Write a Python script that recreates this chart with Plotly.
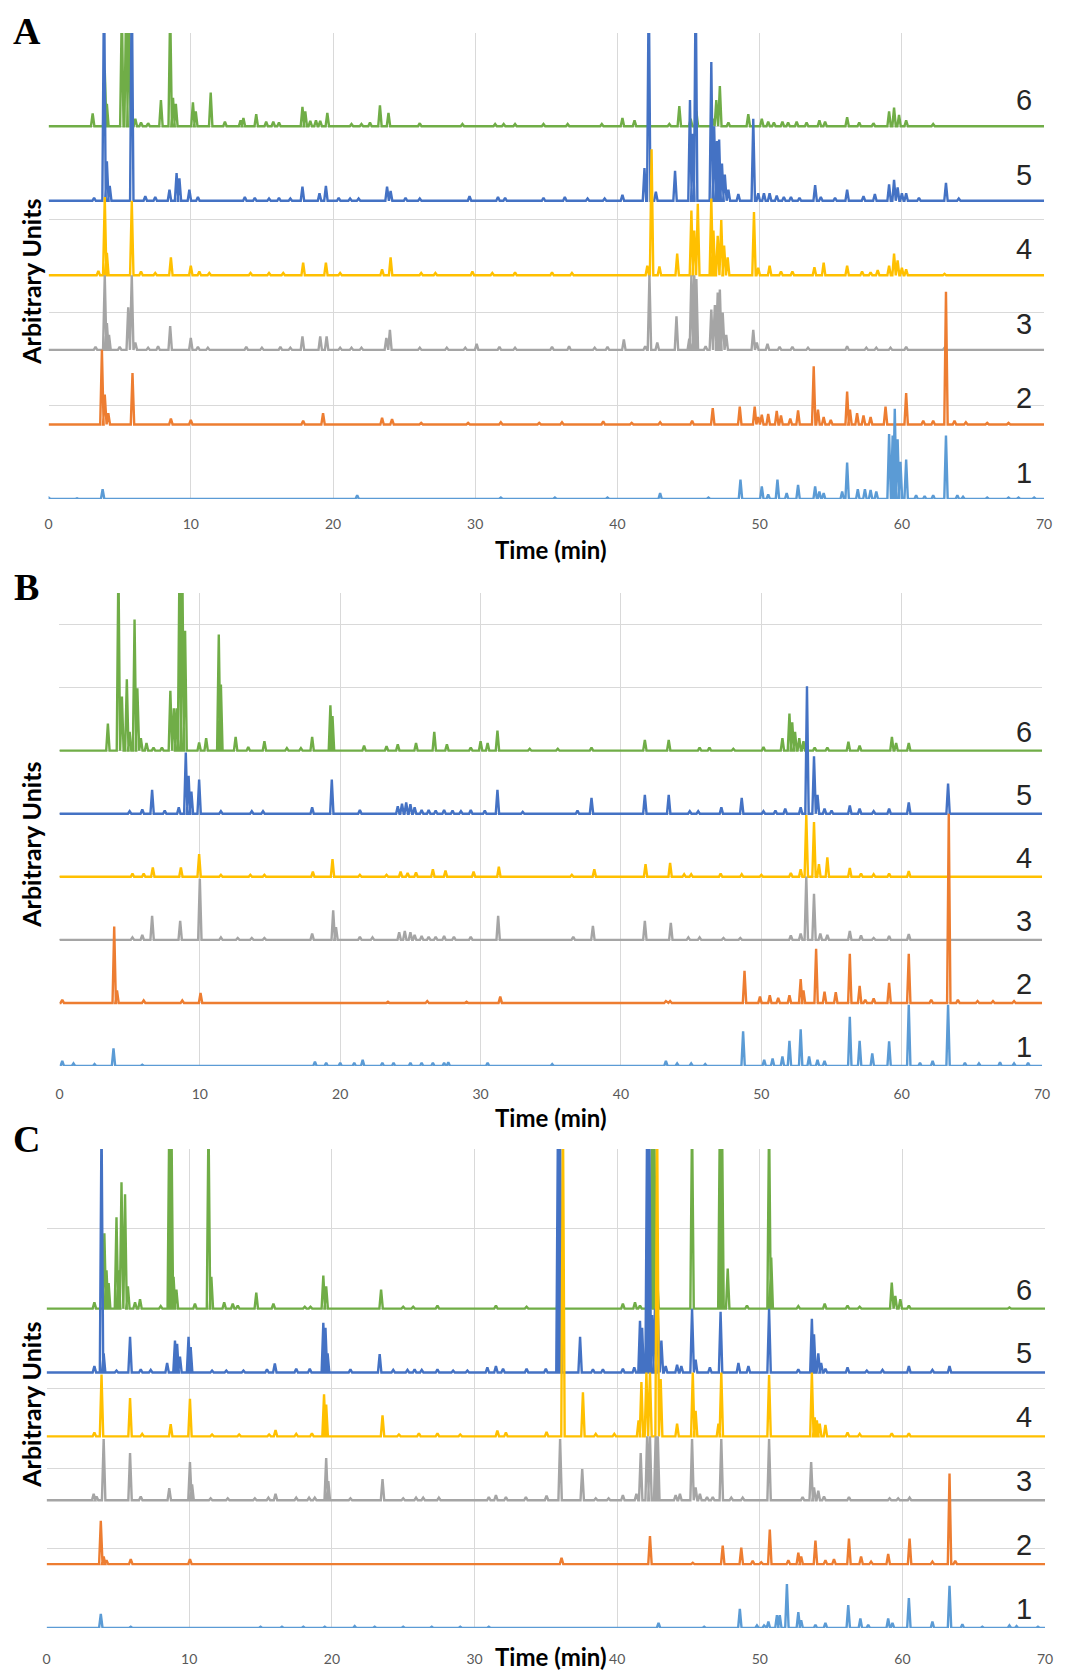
import plotly.graph_objects as go

# browser window in px; the page body keeps its default 8 px margin
W, H = 1069, 1679
BODY_MARGIN = 8
FIG_W, FIG_H = W - 2 * BODY_MARGIN, H - 2 * BODY_MARGIN
TIME_MAX = 70
PEAK_HALF_WIDTH = 0.12  # min

COLORS = ["#5B9BD5", "#ED7D31", "#A5A5A5", "#FFC000", "#4472C4", "#70AD47"]
SAMPLE_LABELS = ["1", "2", "3", "4", "5", "6"]
TIME_TICKS = [0, 10, 20, 30, 40, 50, 60, 70]

# peaks as (time in min, height in units of the trace spacing)
# --- panel A ---
A1 = [(0.0, 0.02), (2.0, 0.01), (3.8, 0.13), (21.7, 0.05), (31.8, 0.02), (35.6, 0.02), (39.3, 0.02),
      (43.0, 0.08), (46.4, 0.02), (48.65, 0.26), (50.15, 0.17), (50.6, 0.06), (51.25, 0.26), (51.9, 0.08),
      (52.7, 0.19), (53.9, 0.17), (54.2, 0.1), (54.5, 0.08), (55.8, 0.1), (56.15, 0.49), (56.9, 0.13),
      (57.4, 0.13), (57.8, 0.12), (58.2, 0.1), (59.1, 0.87), (59.35, 0.85), (59.5, 1.21), (59.7, 0.8),
      (59.9, 0.5), (60.3, 0.53), (61.0, 0.05), (61.6, 0.04), (62.2, 0.05), (63.1, 0.85), (63.9, 0.05),
      (64.3, 0.03), (66.0, 0.02), (67.5, 0.02), (68.2, 0.02), (69.3, 0.02)]
A2 = [(3.75, 1.0), (3.95, 0.4), (4.2, 0.15), (5.9, 0.69), (8.6, 0.08), (10.0, 0.06), (17.9, 0.05),
      (19.3, 0.15), (23.45, 0.09), (24.15, 0.07), (26.2, 0.02), (29.5, 0.02), (31.8, 0.03), (34.5, 0.02),
      (36.1, 0.03), (39.0, 0.04), (41.0, 0.02), (43.0, 0.03), (45.25, 0.05), (46.7, 0.22), (48.6, 0.24),
      (49.65, 0.24), (49.9, 0.1), (50.15, 0.13), (50.6, 0.14), (51.2, 0.18), (51.5, 0.12), (52.15, 0.08),
      (52.7, 0.19), (53.8, 0.78), (54.1, 0.2), (54.5, 0.1), (55.0, 0.06), (56.15, 0.44), (56.35, 0.2),
      (56.85, 0.15), (57.3, 0.12), (57.8, 0.1), (58.85, 0.24), (60.3, 0.42), (61.5, 0.05), (62.2, 0.05),
      (63.1, 1.78), (63.7, 0.05), (64.5, 0.03), (66.0, 0.02), (67.5, 0.02)]
A3 = [(3.3, 0.04), (3.95, 1.0), (4.1, 0.36), (4.25, 0.2), (5.0, 0.04), (5.6, 0.57), (5.85, 1.0),
      (6.1, 0.1), (7.0, 0.03), (7.7, 0.05), (8.55, 0.32), (10.0, 0.16), (10.5, 0.04), (11.2, 0.03),
      (13.9, 0.04), (15.0, 0.03), (16.3, 0.04), (17.0, 0.03), (17.85, 0.18), (19.1, 0.18), (19.55, 0.18),
      (20.5, 0.03), (21.3, 0.03), (22.0, 0.03), (23.75, 0.16), (24.0, 0.27), (26.1, 0.03), (28.0, 0.03),
      (29.3, 0.03), (30.1, 0.08), (31.7, 0.04), (32.8, 0.03), (35.4, 0.04), (36.6, 0.05), (38.4, 0.03),
      (39.3, 0.04), (40.45, 0.14), (41.95, 0.05), (42.25, 1.0), (42.8, 0.1), (44.15, 0.45), (45.05, 0.15),
      (45.2, 1.0), (45.4, 1.0), (45.55, 0.95), (46.2, 0.05), (46.6, 0.54), (46.85, 0.6), (47.05, 0.77),
      (47.2, 0.81), (47.4, 0.5), (47.65, 0.2), (49.55, 0.27), (49.8, 0.1), (50.55, 0.08), (51.4, 0.04),
      (52.3, 0.04), (53.4, 0.03), (56.15, 0.05), (57.5, 0.03), (58.2, 0.03), (59.2, 0.03), (60.3, 0.04),
      (63.0, 0.03)]
A4 = [(3.5, 0.06), (3.95, 1.05), (4.1, 0.3), (5.85, 1.0), (6.5, 0.05), (7.5, 0.03), (8.6, 0.24),
      (10.0, 0.13), (10.6, 0.05), (11.3, 0.03), (14.2, 0.03), (15.5, 0.03), (16.5, 0.03), (17.9, 0.17),
      (19.5, 0.17), (20.5, 0.03), (23.45, 0.08), (24.05, 0.24), (26.2, 0.03), (27.2, 0.03), (29.8, 0.05),
      (31.2, 0.03), (32.8, 0.04), (35.4, 0.04), (36.8, 0.03), (42.1, 0.13), (42.4, 1.69), (42.95, 0.12),
      (44.2, 0.29), (45.2, 0.87), (45.4, 0.6), (45.65, 0.96), (46.6, 1.03), (46.75, 0.6), (47.05, 0.53),
      (47.3, 0.74), (47.5, 0.4), (47.75, 0.24), (49.6, 0.85), (49.9, 0.1), (50.7, 0.13), (51.5, 0.05),
      (52.3, 0.05), (53.85, 0.11), (54.5, 0.17), (56.15, 0.13), (57.2, 0.05), (57.8, 0.04), (58.3, 0.07),
      (59.1, 0.13), (59.45, 0.29), (59.7, 0.2), (60.0, 0.1), (60.3, 0.08), (63.0, 0.02)]
A5 = [(3.2, 0.04), (3.9, 3.0), (4.1, 0.53), (4.3, 0.2), (5.85, 3.0), (6.8, 0.06), (7.5, 0.05),
      (8.5, 0.15), (9.0, 0.37), (9.2, 0.3), (9.9, 0.15), (10.5, 0.05), (13.8, 0.05), (14.5, 0.04),
      (15.5, 0.03), (16.2, 0.04), (17.0, 0.03), (17.85, 0.19), (19.05, 0.1), (19.5, 0.2), (20.4, 0.04),
      (21.2, 0.03), (21.8, 0.03), (23.8, 0.19), (24.05, 0.13), (25.1, 0.04), (26.1, 0.03), (29.6, 0.06),
      (31.6, 0.05), (32.1, 0.04), (34.8, 0.04), (36.3, 0.05), (37.9, 0.03), (39.1, 0.03), (40.35, 0.08),
      (41.9, 0.44), (42.2, 3.0), (42.7, 0.12), (44.05, 0.4), (45.1, 1.35), (45.3, 0.9), (45.5, 3.0),
      (46.6, 1.86), (46.8, 1.0), (47.0, 0.8), (47.15, 0.82), (47.35, 0.5), (47.55, 0.35), (47.8, 0.15),
      (48.5, 0.09), (49.55, 1.1), (49.9, 0.1), (50.3, 0.1), (50.7, 0.1), (51.2, 0.07), (51.7, 0.05),
      (52.2, 0.05), (52.8, 0.04), (53.9, 0.21), (54.3, 0.05), (55.3, 0.04), (56.15, 0.15), (57.3, 0.06),
      (58.1, 0.09), (59.1, 0.22), (59.45, 0.28), (59.7, 0.18), (60.0, 0.1), (60.3, 0.1), (61.2, 0.04),
      (63.1, 0.24), (64.0, 0.03)]
A6 = [(3.1, 0.17), (3.95, 0.75), (4.1, 0.3), (5.15, 1.6), (5.45, 1.6), (5.65, 1.6), (6.1, 0.1),
      (6.5, 0.05), (7.0, 0.04), (7.9, 0.35), (8.55, 1.6), (8.75, 0.38), (8.95, 0.3), (10.15, 0.32),
      (10.35, 0.2), (11.4, 0.45), (12.4, 0.06), (13.5, 0.08), (13.7, 0.11), (14.6, 0.16), (15.3, 0.06),
      (15.8, 0.06), (16.2, 0.05), (17.85, 0.26), (18.05, 0.2), (18.4, 0.07), (18.8, 0.08), (19.1, 0.07),
      (19.6, 0.18), (21.3, 0.03), (22.0, 0.03), (22.6, 0.05), (23.3, 0.28), (23.9, 0.18), (26.1, 0.04),
      (29.1, 0.03), (31.4, 0.03), (32.0, 0.03), (32.8, 0.03), (34.8, 0.03), (36.5, 0.03), (38.9, 0.03),
      (40.35, 0.11), (41.2, 0.08), (43.65, 0.03), (44.35, 0.27), (45.15, 0.1), (45.55, 0.2), (46.7, 0.1),
      (46.95, 0.35), (47.2, 0.54), (47.8, 0.05), (49.2, 0.16), (50.15, 0.1), (50.6, 0.06), (51.0, 0.05),
      (51.6, 0.06), (52.0, 0.05), (52.6, 0.06), (53.3, 0.05), (54.2, 0.08), (54.6, 0.06), (56.15, 0.12),
      (57.0, 0.05), (58.0, 0.04), (59.1, 0.2), (59.45, 0.25), (59.8, 0.15), (60.3, 0.08), (62.2, 0.03)]

# --- panel B ---
B1 = [(0.2, 0.08), (1.0, 0.04), (2.5, 0.03), (3.85, 0.28), (5.9, 0.02), (18.2, 0.07), (19.0, 0.05),
      (20.0, 0.05), (21.0, 0.05), (21.6, 0.1), (23.0, 0.05), (23.8, 0.05), (25.0, 0.05), (25.8, 0.05),
      (26.6, 0.05), (27.4, 0.05), (27.7, 0.06), (30.5, 0.05), (35.1, 0.03), (43.2, 0.08), (44.0, 0.04),
      (45.0, 0.04), (46.0, 0.03), (48.7, 0.55), (50.2, 0.1), (50.8, 0.12), (51.5, 0.15), (52.0, 0.4),
      (52.8, 0.58), (53.4, 0.15), (54.0, 0.1), (54.5, 0.08), (56.3, 0.78), (57.0, 0.4), (57.9, 0.2),
      (59.1, 0.39), (60.5, 0.97), (61.3, 0.05), (62.2, 0.08), (63.3, 0.97), (64.5, 0.05), (65.5, 0.04),
      (67.0, 0.06), (68.0, 0.04), (69.0, 0.05)]
B2 = [(0.2, 0.05), (3.9, 1.21), (4.1, 0.2), (6.0, 0.04), (8.75, 0.04), (10.05, 0.16), (23.4, 0.02),
      (26.2, 0.03), (29.0, 0.02), (31.4, 0.1), (43.2, 0.03), (43.5, 0.03), (48.8, 0.51), (49.9, 0.1),
      (50.6, 0.12), (51.2, 0.08), (52.0, 0.12), (52.8, 0.38), (53.0, 0.2), (53.9, 0.86), (54.5, 0.18),
      (55.3, 0.17), (56.3, 0.78), (57.0, 0.27), (57.4, 0.05), (58.0, 0.07), (59.1, 0.32), (60.5, 0.78),
      (62.1, 0.05), (63.35, 3.0), (64.0, 0.05), (65.4, 0.03), (66.5, 0.03), (68.0, 0.03)]
B3 = [(5.2, 0.04), (5.9, 0.08), (6.6, 0.38), (8.6, 0.3), (10.0, 0.97), (11.5, 0.04), (12.7, 0.03),
      (13.7, 0.03), (14.6, 0.03), (18.0, 0.1), (19.5, 0.47), (19.7, 0.2), (21.4, 0.05), (22.3, 0.04),
      (24.2, 0.12), (24.6, 0.14), (25.0, 0.12), (25.3, 0.08), (25.8, 0.06), (26.3, 0.05), (26.8, 0.05),
      (27.4, 0.06), (28.1, 0.05), (29.3, 0.05), (31.25, 0.38), (36.6, 0.05), (38.0, 0.22), (41.7, 0.3),
      (43.55, 0.27), (44.8, 0.04), (45.6, 0.04), (47.3, 0.03), (48.5, 0.03), (52.1, 0.07), (52.8, 0.1),
      (53.2, 1.0), (53.75, 0.73), (54.2, 0.1), (54.7, 0.08), (56.3, 0.14), (57.1, 0.07), (58.0, 0.03),
      (59.1, 0.06), (60.5, 0.09)]
B4 = [(5.2, 0.05), (6.0, 0.05), (6.65, 0.15), (8.65, 0.15), (9.95, 0.36), (11.5, 0.03), (13.6, 0.03),
      (14.6, 0.03), (18.05, 0.08), (19.45, 0.28), (21.4, 0.03), (23.3, 0.03), (24.3, 0.08), (24.8, 0.06),
      (25.4, 0.07), (26.6, 0.12), (27.5, 0.1), (29.5, 0.08), (31.3, 0.16), (36.5, 0.03), (38.1, 0.12),
      (41.75, 0.2), (43.5, 0.22), (44.5, 0.04), (45.0, 0.04), (47.1, 0.05), (48.6, 0.04), (50.0, 0.03),
      (52.1, 0.06), (52.8, 0.12), (53.2, 0.98), (53.75, 0.87), (54.1, 0.2), (54.7, 0.31), (56.3, 0.14),
      (57.1, 0.05), (58.0, 0.04), (59.1, 0.05), (60.5, 0.09)]
B5 = [(5.0, 0.04), (5.9, 0.07), (6.6, 0.38), (7.5, 0.05), (8.5, 0.1), (9.0, 0.97), (9.2, 0.6),
      (9.4, 0.35), (9.95, 0.54), (11.5, 0.04), (13.7, 0.04), (14.5, 0.04), (18.0, 0.1), (19.4, 0.54),
      (21.4, 0.06), (24.1, 0.12), (24.4, 0.16), (24.7, 0.18), (25.0, 0.15), (25.3, 0.1), (25.8, 0.06),
      (26.3, 0.06), (26.8, 0.05), (27.4, 0.06), (28.0, 0.05), (28.6, 0.04), (29.3, 0.06), (30.3, 0.05),
      (31.2, 0.38), (33.0, 0.03), (36.9, 0.05), (37.9, 0.25), (41.7, 0.3), (43.4, 0.3), (44.9, 0.04),
      (45.5, 0.04), (47.15, 0.1), (48.6, 0.25), (50.15, 0.04), (51.0, 0.05), (51.7, 0.08), (52.8, 0.1),
      (53.25, 2.02), (53.75, 0.91), (54.0, 0.3), (54.5, 0.08), (55.0, 0.05), (56.3, 0.13), (57.0, 0.08),
      (58.0, 0.04), (59.1, 0.08), (60.5, 0.18), (63.3, 0.48)]
B6 = [(3.45, 0.43), (4.2, 3.0), (4.45, 0.86), (4.8, 1.13), (5.0, 0.3), (5.35, 2.08), (5.55, 0.99),
      (5.8, 0.2), (6.2, 0.12), (6.7, 0.05), (7.3, 0.05), (7.9, 0.95), (8.15, 0.67), (8.35, 0.67),
      (8.55, 3.0), (8.75, 3.0), (8.95, 1.9), (9.95, 0.13), (10.45, 0.2), (11.35, 1.84), (11.5, 1.05),
      (12.55, 0.22), (13.45, 0.06), (14.6, 0.15), (16.2, 0.04), (17.2, 0.04), (18.0, 0.22), (19.3, 0.72),
      (19.45, 0.55), (21.7, 0.08), (23.3, 0.07), (24.1, 0.1), (25.4, 0.12), (26.7, 0.3), (27.6, 0.1),
      (29.3, 0.05), (30.0, 0.15), (30.5, 0.12), (31.2, 0.32), (33.5, 0.03), (35.5, 0.03), (37.9, 0.05),
      (41.7, 0.17), (43.4, 0.17), (45.6, 0.05), (46.3, 0.05), (48.0, 0.03), (50.15, 0.06), (51.5, 0.2),
      (52.0, 0.59), (52.2, 0.45), (52.4, 0.3), (52.7, 0.2), (53.0, 0.15), (53.8, 0.05), (54.7, 0.05),
      (56.2, 0.14), (57.0, 0.08), (59.3, 0.22), (59.6, 0.12), (60.5, 0.12)]

# --- panel C ---
C1 = [(3.8, 0.22), (5.9, 0.02), (15.0, 0.02), (16.5, 0.02), (18.0, 0.02), (19.5, 0.02), (21.6, 0.03),
      (23.0, 0.02), (25.0, 0.02), (27.0, 0.02), (29.0, 0.02), (31.0, 0.02), (42.9, 0.08), (46.1, 0.02),
      (48.6, 0.3), (49.8, 0.04), (50.3, 0.04), (50.6, 0.1), (51.2, 0.2), (51.4, 0.2), (51.9, 0.69),
      (52.7, 0.25), (52.9, 0.12), (53.9, 0.05), (54.6, 0.08), (56.2, 0.36), (57.05, 0.15), (57.6, 0.05),
      (59.0, 0.15), (59.3, 0.08), (60.45, 0.47), (62.1, 0.1), (63.3, 0.66), (64.2, 0.06), (65.6, 0.02),
      (67.5, 0.04), (68.0, 0.03), (69.5, 0.02)]
C2 = [(3.8, 0.68), (4.0, 0.12), (4.2, 0.06), (5.9, 0.08), (10.05, 0.08), (36.1, 0.1), (42.3, 0.44),
      (45.3, 0.02), (47.4, 0.29), (48.7, 0.26), (49.5, 0.05), (50.1, 0.03), (50.7, 0.54), (52.0, 0.06),
      (52.7, 0.18), (52.9, 0.12), (53.9, 0.37), (54.6, 0.06), (55.2, 0.08), (56.25, 0.4), (57.1, 0.12),
      (57.8, 0.04), (59.0, 0.16), (60.5, 0.4), (62.1, 0.04), (63.3, 1.42), (63.7, 0.05)]
C3 = [(3.3, 0.1), (3.5, 0.06), (4.0, 0.96), (5.85, 0.74), (6.6, 0.06), (8.6, 0.19), (10.05, 0.6),
      (10.2, 0.25), (11.5, 0.03), (12.7, 0.03), (14.6, 0.03), (15.55, 0.04), (16.05, 0.1), (17.5, 0.04),
      (18.4, 0.04), (18.8, 0.04), (19.6, 0.66), (19.75, 0.3), (21.3, 0.03), (23.55, 0.33), (25.0, 0.03),
      (25.9, 0.04), (26.4, 0.04), (27.5, 0.04), (31.0, 0.05), (31.5, 0.08), (32.2, 0.05), (33.6, 0.05),
      (35.05, 0.07), (36.0, 0.96), (37.55, 0.49), (38.5, 0.03), (39.4, 0.03), (40.4, 0.08), (41.35, 0.1),
      (41.65, 0.74), (42.1, 1.0), (42.3, 1.0), (42.7, 1.0), (42.85, 1.0), (44.1, 0.08), (44.4, 0.1),
      (45.25, 0.96), (45.5, 0.2), (45.8, 0.1), (46.3, 0.05), (46.7, 0.05), (47.3, 0.96), (48.0, 0.04),
      (48.8, 0.04), (50.65, 0.96), (53.0, 0.05), (53.6, 0.6), (53.8, 0.2), (54.1, 0.15), (54.5, 0.06),
      (56.25, 0.05), (59.1, 0.03), (59.7, 0.03), (60.5, 0.04)]
C4 = [(3.35, 0.06), (3.85, 0.97), (5.85, 0.6), (6.7, 0.04), (8.7, 0.19), (10.05, 0.59), (11.6, 0.03),
      (13.5, 0.03), (15.6, 0.03), (16.05, 0.1), (17.5, 0.04), (18.6, 0.05), (19.45, 0.66), (19.6, 0.5),
      (23.55, 0.33), (24.7, 0.03), (26.1, 0.05), (27.4, 0.05), (29.0, 0.03), (31.6, 0.09), (32.2, 0.06),
      (35.05, 0.07), (36.2, 5.0), (37.6, 0.69), (38.5, 0.04), (39.8, 0.04), (41.5, 0.25),
      (41.7, 0.85), (42.05, 1.0), (42.3, 1.0), (42.8, 5.0), (43.05, 0.9), (44.2, 0.2),
      (45.3, 1.0), (45.5, 0.4), (47.1, 0.2), (47.3, 1.0), (50.65, 0.96), (53.65, 1.0), (53.85, 0.3),
      (54.0, 0.25), (54.2, 0.2), (54.6, 0.18), (56.15, 0.06), (57.0, 0.04), (59.25, 0.05), (60.45, 0.05)]
C5 = [(3.35, 0.1), (3.85, 4.0), (4.0, 0.3), (4.9, 0.03), (5.85, 0.56), (6.6, 0.05), (7.3, 0.04),
      (8.45, 0.15), (9.0, 0.5), (9.15, 0.45), (9.35, 0.25), (9.95, 0.56), (10.1, 0.4), (11.6, 0.03),
      (12.6, 0.03), (13.8, 0.03), (15.45, 0.05), (16.0, 0.14), (17.5, 0.06), (18.45, 0.06), (19.4, 0.78),
      (19.55, 0.7), (19.7, 0.3), (21.3, 0.05), (23.35, 0.29), (24.3, 0.04), (25.3, 0.04), (25.8, 0.05),
      (26.3, 0.04), (27.4, 0.05), (28.5, 0.03), (29.5, 0.03), (30.9, 0.08), (31.5, 0.1), (32.0, 0.06),
      (33.65, 0.06), (35.0, 0.06), (35.85, 4.0), (36.0, 4.0), (37.4, 0.56), (38.3, 0.05), (39.0, 0.05),
      (40.4, 0.06), (41.2, 0.08), (41.6, 0.81), (41.75, 0.7), (42.1, 4.0), (42.25, 4.0), (42.45, 0.9),
      (42.65, 1.0), (42.85, 0.9), (43.1, 0.5), (43.4, 0.1), (44.2, 0.12), (44.5, 0.1), (45.25, 1.0),
      (45.5, 0.2), (46.5, 0.08), (47.25, 0.95), (48.5, 0.15), (49.2, 0.1), (50.65, 1.0), (52.7, 0.05),
      (53.65, 0.84), (53.8, 0.6), (54.1, 0.3), (54.3, 0.15), (54.6, 0.06), (56.15, 0.08), (57.5, 0.03),
      (58.6, 0.04), (60.45, 0.1), (62.1, 0.04), (63.3, 0.1)]
C6 = [(3.35, 0.1), (4.05, 1.18), (4.2, 0.6), (4.35, 0.4), (4.9, 1.43), (5.05, 0.6), (5.25, 1.98),
      (5.5, 1.79), (5.7, 0.35), (6.2, 0.1), (6.55, 0.15), (8.0, 0.04), (8.6, 3.0), (8.75, 3.0),
      (8.9, 0.5), (9.1, 0.3), (10.4, 0.08), (11.35, 3.0), (11.55, 0.5), (12.45, 0.1), (13.05, 0.08),
      (13.4, 0.05), (14.7, 0.25), (15.9, 0.08), (18.1, 0.03), (18.5, 0.03), (19.4, 0.52), (19.6, 0.35),
      (23.45, 0.3), (25.0, 0.03), (25.7, 0.03), (27.4, 0.05), (31.5, 0.05), (33.65, 0.03), (35.9, 0.5),
      (40.4, 0.08), (41.25, 0.1), (41.6, 0.05), (42.2, 0.5), (42.45, 3.0), (42.6, 3.0), (42.8, 0.5),
      (45.25, 3.0), (47.2, 3.0), (47.35, 3.0), (47.75, 0.63), (49.1, 0.05), (50.65, 3.0), (50.8, 0.8),
      (52.7, 0.04), (54.55, 0.08), (56.15, 0.05), (57.0, 0.03), (59.25, 0.41), (59.5, 0.2),
      (59.85, 0.15), (60.45, 0.05), (67.5, 0.02)]


def paper_x(px):
    # px measured from the left edge of the window
    return (px - BODY_MARGIN) / FIG_W


def paper_y(px):
    # px measured from the top edge of the window
    return 1 - (px - BODY_MARGIN) / FIG_H


def chromatogram(peaks, offset):
    """Baseline at `offset` with one narrow spike per peak."""
    xs, ys = [0], [offset]
    for t, h in sorted(peaks):
        xs += [t - PEAK_HALF_WIDTH, t, t + PEAK_HALF_WIDTH]
        ys += [offset, offset + h, offset]
    xs.append(TIME_MAX)
    ys.append(offset)
    return xs, ys


# layout of the three panels (pixel positions in the 1069x1679 window)
panels = [
    dict(letter="A", series=[A1, A2, A3, A4, A5, A6], ytop=6.25, ystep=1.25,
         left=45, right=1052, top=33, bottom=499, label_dy=0.35, standoff=15,
         letter_y=31, ytitle_y=282, time_y=549),
    dict(letter="B", series=[B1, B2, B3, B4, B5, B6], ytop=7.5, ystep=1.0,
         left=56, right=1050, top=593, bottom=1066, label_dy=0.3, standoff=18,
         letter_y=587, ytitle_y=845, time_y=1117),
    dict(letter="C", series=[C1, C2, C3, C4, C5, C6], ytop=7.5, ystep=1.25,
         left=43, right=1053, top=1149, bottom=1628, label_dy=0.3, standoff=21,
         letter_y=1139, ytitle_y=1405, time_y=1656),
]

fig = go.Figure()
annotations = []
grid_color = "#D9D9D9"

for p, panel in enumerate(panels):
    suffix = "" if p == 0 else str(p + 1)
    xref, yref = "x" + suffix, "y" + suffix

    # series 6 is drawn first, series 1 last (on top)
    for k in reversed(range(6)):
        xs, ys = chromatogram(panel["series"][k], k)
        fig.add_trace(go.Scatter(
            x=xs, y=ys, mode="lines", xaxis=xref, yaxis=yref,
            line=dict(color=COLORS[k], width=2.4), hoverinfo="skip", showlegend=False,
        ))
        annotations.append(dict(
            x=paper_x(1032), xref="paper", y=k + panel["label_dy"], yref=yref,
            text=SAMPLE_LABELS[k], showarrow=False, xanchor="center", yanchor="middle",
            font=dict(family="Liberation Sans", size=29, color="#262626"),
        ))

    n_grid = int(round(panel["ytop"] / panel["ystep"]))
    grid_vals = [i * panel["ystep"] for i in range(n_grid + 1)]
    if grid_vals[-1] < panel["ytop"]:
        grid_vals.append(panel["ytop"])

    fig.update_layout({
        "xaxis" + suffix: dict(
            domain=[paper_x(panel["left"]), paper_x(panel["right"])], anchor=yref,
            range=[0, TIME_MAX], tickvals=TIME_TICKS, showgrid=True, gridcolor=grid_color,
            gridwidth=1, zeroline=False, showline=False, ticks="",
            ticklabelstandoff=panel["standoff"],
            tickfont=dict(family="Lato", size=14, color="#595959"),
        ),
        "yaxis" + suffix: dict(
            domain=[paper_y(panel["bottom"]), paper_y(panel["top"])], anchor=xref,
            range=[0, panel["ytop"]], tickvals=grid_vals, showticklabels=False,
            showgrid=True, gridcolor=grid_color, gridwidth=1, zeroline=False, showline=False,
        ),
    })

    # panel letter
    annotations.append(dict(
        x=paper_x(23), y=paper_y(panel["letter_y"]), xref="paper", yref="paper",
        text="<b>" + panel["letter"] + "</b>", showarrow=False, xanchor="center", yanchor="middle",
        font=dict(family="Liberation Serif", size=38, color="black"),
    ))
    # y axis title
    annotations.append(dict(
        x=paper_x(27), y=paper_y(panel["ytitle_y"]), xref="paper", yref="paper",
        text="<b>Arbitrary Units</b>", textangle=-90, showarrow=False,
        xanchor="center", yanchor="middle",
        font=dict(family="Lato", size=25, color="black"),
    ))
    # x axis title
    annotations.append(dict(
        x=paper_x(553), y=paper_y(panel["time_y"]), xref="paper", yref="paper",
        text="<b>Time (min)</b>", showarrow=False, xanchor="center", yanchor="middle",
        font=dict(family="Lato", size=24, color="black"),
    ))

fig.update_layout(
    width=FIG_W, height=FIG_H,
    margin=dict(l=0, r=0, t=0, b=0),
    paper_bgcolor="white", plot_bgcolor="white",
    showlegend=False,
    annotations=annotations,
)

fig.write_html("out.html")
